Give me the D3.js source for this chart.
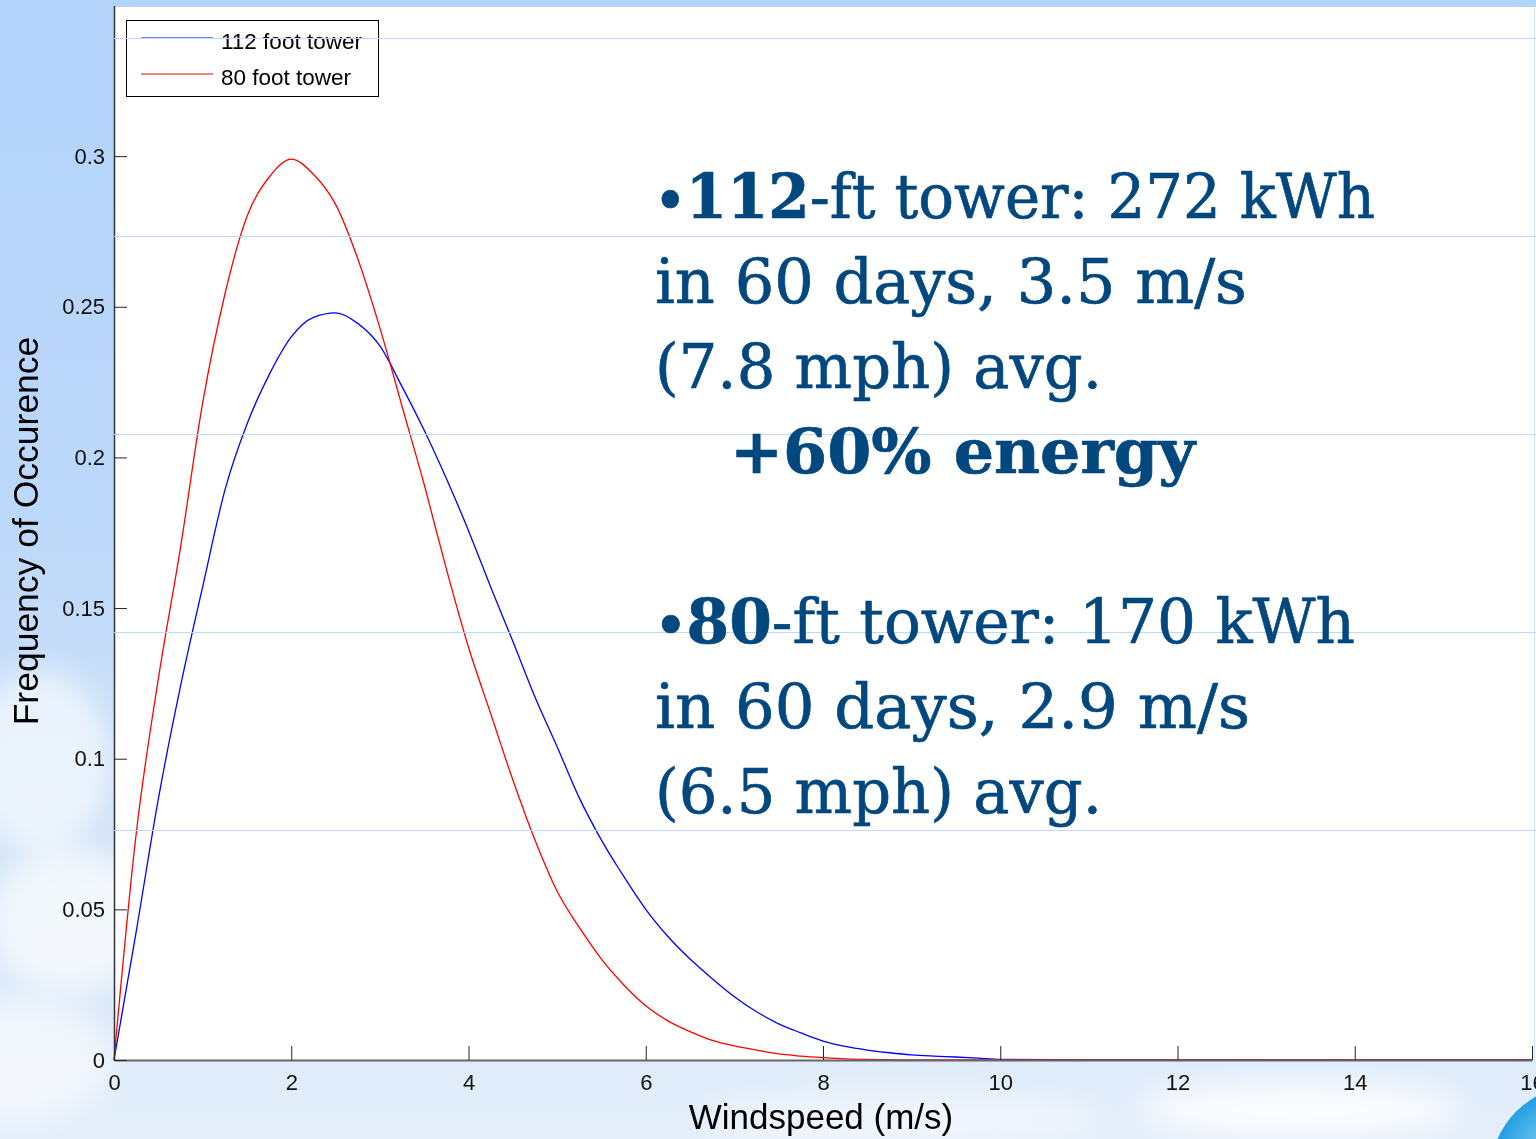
<!DOCTYPE html>
<html>
<head>
<meta charset="utf-8">
<script src="https://cdn.jsdelivr.net/npm/d3@7"></script>
<style>
html, body { margin: 0; padding: 0; overflow: hidden; background: #d3e4f9; }
</style>
</head>
<body>
<div id="top"></div>
<script>
// wind speed (m/s) at which the two frequency curves were read
var speeds = [0, 0.25, 0.5, 0.75, 1, 1.25, 1.5, 1.75, 2, 2.25, 2.5, 2.75, 3, 3.25, 3.5, 3.75,
  4, 4.25, 4.5, 4.75, 5, 5.25, 5.5, 5.75, 6, 6.25, 6.5, 6.75, 7, 7.25, 7.5, 7.75,
  8, 8.25, 8.5, 8.75, 9, 9.25, 9.5, 9.75, 10, 12, 14, 16];

var tower112 = [0, 0.0425, 0.0866, 0.124, 0.157, 0.189, 0.211, 0.2274, 0.240, 0.2465, 0.248, 0.2445, 0.237, 0.2235, 0.209, 0.193,
  0.1757, 0.157, 0.139, 0.1205, 0.104, 0.087, 0.073, 0.061, 0.050, 0.041, 0.0335, 0.027, 0.021, 0.016, 0.012, 0.009,
  0.0063, 0.0045, 0.0033, 0.0024, 0.0017, 0.0013, 0.001, 0.0006, 0.0002, 0, 0, 0];

var tower80 = [0, 0.075, 0.1265, 0.170, 0.218, 0.254, 0.280, 0.293, 0.299, 0.294, 0.284, 0.266, 0.243, 0.217, 0.191, 0.163,
  0.137, 0.115, 0.093, 0.073, 0.056, 0.044, 0.0335, 0.025, 0.018, 0.013, 0.0094, 0.0065, 0.0047, 0.0033, 0.002, 0.0013,
  0.0008, 0.0004, 0.0002, 0.0001, 0, 0, 0, 0, 0, 0, 0, 0];

var seriesNames = ['112 foot tower', '80 foot tower'];
var seriesColors = ['#0000ff', '#ff0000'];

var xTicks = [0, 2, 4, 6, 8, 10, 12, 14, 16];
var yTicks = [0, 0.05, 0.1, 0.15, 0.2, 0.25, 0.3];

// slide text laid over the plot: [text, bold, bullet]
var noteLines = [
  [['\u2022', true, true], ['112', true], ['-ft tower: 272 kWh', false]],
  [['in 60 days, 3.5 m/s', false]],
  [['(7.8 mph) avg.', false]],
  [['+60% energy', true]],
  [],
  [['\u2022', true, true], ['80', true], ['-ft tower: 170 kWh', false]],
  [['in 60 days, 2.9 m/s', false]],
  [['(6.5 mph) avg.', false]]
];
var noteWidths = [720, 592, 447, 465, 0, 700, 595, 447];
var ruleYs = [38, 236, 434, 632, 830];

var W = 1536, H = 1139;
var svg = d3.select('#top').append('svg').attr('width', W).attr('height', H)
  .style('display', 'block');

var defs = svg.append('defs');
var sky = defs.append('linearGradient').attr('id', 'sky').attr('x1', 0).attr('y1', 0).attr('x2', 0).attr('y2', 1);
sky.append('stop').attr('offset', '0%').attr('stop-color', '#b3d3fb');
sky.append('stop').attr('offset', '45%').attr('stop-color', '#bcd8fa');
sky.append('stop').attr('offset', '75%').attr('stop-color', '#d4e5f8');
sky.append('stop').attr('offset', '100%').attr('stop-color', '#e4eefb');
var blur = defs.append('filter').attr('id', 'soft').attr('x', '-50%').attr('y', '-50%').attr('width', '200%').attr('height', '200%');
blur.append('feGaussianBlur').attr('stdDeviation', 14);
var globe = defs.append('radialGradient').attr('id', 'globe').attr('cx', '35%').attr('cy', '35%').attr('r', '70%');
globe.append('stop').attr('offset', '0%').attr('stop-color', '#7fd0f5');
globe.append('stop').attr('offset', '45%').attr('stop-color', '#1e9be0');
globe.append('stop').attr('offset', '100%').attr('stop-color', '#2f7fc4');

svg.append('rect').attr('width', W).attr('height', H).attr('fill', 'url(#sky)');

// soft clouds in the background
var clouds = svg.append('g').attr('filter', 'url(#soft)').attr('fill', '#ffffff');
clouds.append('ellipse').attr('cx', 40).attr('cy', 760).attr('rx', 70).attr('ry', 90).attr('opacity', 0.6);
clouds.append('ellipse').attr('cx', 70).attr('cy', 920).attr('rx', 80).attr('ry', 70).attr('opacity', 0.7);
clouds.append('ellipse').attr('cx', 20).attr('cy', 1060).attr('rx', 90).attr('ry', 60).attr('opacity', 0.6);
clouds.append('ellipse').attr('cx', 1300).attr('cy', 1110).attr('rx', 160).attr('ry', 30).attr('opacity', 0.8);
clouds.append('ellipse').attr('cx', 900).attr('cy', 1120).attr('rx', 200).attr('ry', 25).attr('opacity', 0.5);

var x = d3.scaleLinear().domain([0, 16]).range([114, 1532]);
var y = d3.scaleLinear().domain([0, 0.35]).range([1060, 5.5]);

// white axes box
svg.append('rect').attr('x', 114).attr('y', 7).attr('width', W - 114).attr('height', 1060 - 7).attr('fill', '#ffffff');

// globe peeking in at the bottom right
svg.append('circle').attr('cx', 1580).attr('cy', 1175).attr('r', 90).attr('fill', 'url(#globe)');
svg.append('ellipse').attr('cx', 1585).attr('cy', 1140).attr('rx', 45).attr('ry', 55).attr('fill', '#5bb534').attr('opacity', 0.9);

var line = d3.line().x(function(d) { return x(d[0]); }).y(function(d) { return y(d[1]); }).curve(d3.curveMonotoneX);
var series = [tower112, tower80];
series.forEach(function(vals, i) {
  var pts = speeds.map(function(s, j) { return [s, vals[j]]; });
  svg.append('path').datum(pts).attr('d', line)
    .attr('fill', 'none').attr('stroke', seriesColors[i]).attr('stroke-width', 1.3);
});

// axes, MATLAB style with inward ticks
var xAxis = svg.append('g').attr('transform', 'translate(0,1060)')
  .call(d3.axisBottom(x).tickValues(xTicks).tickSizeInner(-14).tickSizeOuter(0).tickPadding(14)
    .tickFormat(d3.format('d')));
xAxis.select('.domain').attr('stroke', '#666').attr('stroke-width', 2);
xAxis.selectAll('.tick line').attr('stroke', '#222');
xAxis.selectAll('text').attr('font-family', 'Liberation Sans, Arial, sans-serif').attr('font-size', 22).attr('fill', '#111');

var yAxis = svg.append('g').attr('transform', 'translate(114,0)')
  .call(d3.axisLeft(y).tickValues(yTicks).tickSizeInner(-13).tickSizeOuter(0).tickPadding(9)
    .tickFormat(function(d) { return d === 0 ? '0' : String(+d.toFixed(2)); }));
yAxis.select('.domain').attr('stroke', '#333').attr('stroke-width', 1.5);
yAxis.selectAll('.tick line').attr('stroke', '#222');
yAxis.selectAll('text').attr('font-family', 'Liberation Sans, Arial, sans-serif').attr('font-size', 22).attr('fill', '#111');

svg.append('text').attr('x', 821).attr('y', 1129).attr('text-anchor', 'middle')
  .attr('font-family', 'Liberation Sans, Arial, sans-serif').attr('font-size', 35).attr('fill', '#000')
  .text('Windspeed (m/s)');
svg.append('text').attr('transform', 'translate(38,531) rotate(-90)').attr('text-anchor', 'middle')
  .attr('font-family', 'Liberation Sans, Arial, sans-serif').attr('font-size', 35.5).attr('fill', '#000')
  .text('Frequency of Occurence');

// legend
var lg = svg.append('g');
lg.append('rect').attr('x', 126.5).attr('y', 20.5).attr('width', 252).attr('height', 76)
  .attr('fill', '#fff').attr('stroke', '#000').attr('stroke-width', 1);
seriesNames.forEach(function(name, i) {
  var ly = 38 + i * 36;
  lg.append('line').attr('x1', 141).attr('x2', 213).attr('y1', ly).attr('y2', ly)
    .attr('stroke', seriesColors[i]).attr('stroke-width', 1.2);
  lg.append('text').attr('x', 221).attr('y', ly + 11)
    .attr('font-family', 'Liberation Sans, Arial, sans-serif').attr('font-size', 22.5).attr('fill', '#000')
    .text(name);
});

// faint slide rules
svg.selectAll('.rule').data(ruleYs).enter().append('line').attr('class', 'rule')
  .attr('x1', 114).attr('x2', W).attr('y1', function(d) { return d + 0.5; }).attr('y2', function(d) { return d + 0.5; })
  .attr('stroke', '#bcd8fb').attr('stroke-width', 1);
svg.append('line').attr('x1', W - 1.5).attr('x2', W - 1.5).attr('y1', 7).attr('y2', 1060)
  .attr('stroke', '#cfe2fb').attr('stroke-width', 1);

// annotation text
var notes = svg.append('g').attr('font-family', 'DejaVu Serif, serif').attr('font-size', 62)
  .attr('fill', '#02487f').attr('stroke', '#02487f').attr('stroke-width', 0.7);
noteLines.forEach(function(segs, i) {
  if (!segs.length) return;
  var t = notes.append('text').attr('x', i === 3 ? 730 : 655).attr('y', 218 + i * 85)
    .attr('textLength', noteWidths[i]).attr('lengthAdjust', 'spacingAndGlyphs');
  segs.forEach(function(s) {
    var sp = t.append('tspan').attr('font-weight', s[1] ? 'bold' : 'normal').text(s[0]);
    if (s[2]) sp.attr('font-size', 50);
  });
});
</script>
</body>
</html>
